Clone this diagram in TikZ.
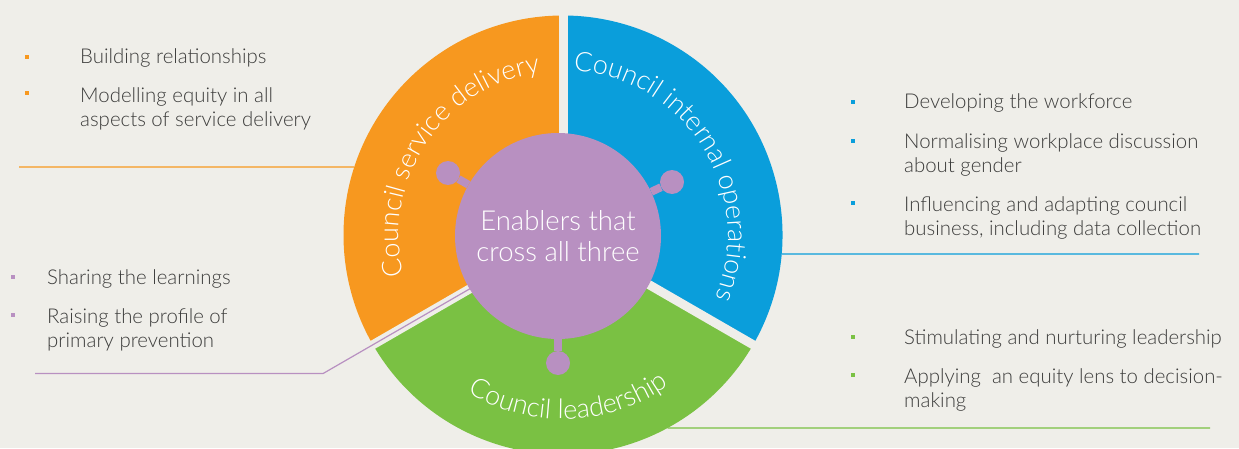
\documentclass[tikz,border=0pt]{standalone}
\usepackage{fontspec}
\setmainfont{Lato Light}
\usepackage{tikz}
\usetikzlibrary{decorations.text}

\definecolor{paper}{HTML}{EFEEE9}
\definecolor{svcorange}{HTML}{F7981F}
\definecolor{opsblue}{HTML}{0A9EDB}
\definecolor{leadgreen}{HTML}{7AC143}
\definecolor{hubpurple}{HTML}{B890C1}
\definecolor{ink}{HTML}{3C3C3B}

\newcommand{\ringfont}{\fontsize{27}{27}\selectfont}
\newcommand{\hubfont}{\fontsize{27.5}{31}\selectfont}
\newcommand{\listfont}{\fontsize{20.4}{24}\selectfont}

\tikzset{
  dot/.style={fill=#1, minimum size=4.5pt, inner sep=0pt},
  item/.style={anchor=base west, inner sep=0pt, align=left, text=ink, font=\listfont},
  gap/.style={draw=paper, line width=9pt},
  stem/.style={draw=hubpurple, line width=8pt},
  knob/.style={circle, fill=hubpurple, minimum size=24pt, inner sep=0pt},
  ringtext/.style={decorate, decoration={text along path, text align=center,
    text={|\color{white}\ringfont|#1}}}
}

\begin{document}
\begin{tikzpicture}[x=1pt, y=1pt]
  \clip (0,0) rectangle (1239,448);
  \fill[paper] (0,0) rectangle (1239,448);

  \coordinate (c) at (563,213);

  % ring sectors
  \fill[svcorange] (c) -- ++(90:219.5) arc[start angle=90, end angle=210, radius=219.5] -- cycle;
  \fill[leadgreen] (c) -- ++(210:219.5) arc[start angle=210, end angle=330, radius=219.5] -- cycle;
  \fill[opsblue] (c) -- ++(330:219.5) arc[start angle=330, end angle=450, radius=219.5] -- cycle;
  \foreach \a in {90,210,330}
    \draw[gap] (c) -- ++(\a:230);

  % curved sector titles
  \path[ringtext=Council service delivery] ([shift={(206:164)}]c) arc[start angle=206, end angle=86, radius=164];
  \path[ringtext=Council internal operations] ([shift={(92:165)}]c) arc[start angle=92, end angle=-28, radius=165];
  \path[ringtext=Council leadership] ([shift={(222:184)}]c) arc[start angle=222, end angle=322, radius=184];

  % leader lines
  \coordinate (ol) at (19,281);
  \coordinate (oe) at ([shift={(161.95:219.5)}]c);
  \coordinate (bl) at (1199,194);
  \coordinate (be) at ([shift={(-4.97:219.5)}]c);
  \coordinate (gl) at (1210,20);
  \coordinate (ge) at ([shift={(-61.56:219.5)}]c);
  \coordinate (pk) at ([shift={(210:277)}]c);
  \coordinate (pl) at (35,74.5);
  \draw[svcorange, line width=1.2pt] (ol) -- (oe);
  \draw[opsblue, line width=1.2pt] (bl) -- (be);
  \draw[leadgreen, line width=1.2pt] (gl) -- (ge);
  \draw[hubpurple, line width=1.2pt] (c) -- (pk) -- (pl);

  % hub with its three knobs
  \node[knob] (k1) at (448,275) {};
  \node[knob] (k2) at (672,266) {};
  \node[knob] (k3) at (558,85) {};
  \node[circle, fill=hubpurple, minimum size=206pt, inner sep=0pt, text=white,
    align=center, font=\hubfont] (hub) at (558,212) {Enablers that\\cross all three};
  \draw[stem] (hub) -- (k1);
  \draw[stem] (hub) -- (k2);
  \draw[stem] (hub) -- (k3);

  % service delivery (multi-line items sit on their last line)
  \node[dot=svcorange] (o1) at (27,391) {};
  \node[dot=svcorange] (o2) at (27,355) {};
  \node[item] (to1) at (80,384) {Building relationships};
  \node[item] (to2) at (80,321) {Modelling equity in all\\aspects of service delivery};

  % enablers
  \node[dot=hubpurple] (p1) at (13,171) {};
  \node[dot=hubpurple] (p2) at (13,133) {};
  \node[item] (tp1) at (47,164) {Sharing the learnings};
  \node[item] (tp2) at (47,101) {Raising the profile of\\primary prevention};

  % internal operations
  \node[dot=opsblue] (b1) at (853,346) {};
  \node[dot=opsblue] (b2) at (853,307) {};
  \node[dot=opsblue] (b3) at (853,245) {};
  \node[item] (tb1) at (904,339) {Developing the workforce};
  \node[item] (tb2) at (904,276) {Normalising workplace discussion\\about gender};
  \node[item] (tb3) at (904,213) {Influencing and adapting council\\business, including data collection};

  % leadership
  \node[dot=leadgreen] (g1) at (853,111) {};
  \node[dot=leadgreen] (g2) at (853,73) {};
  \node[item] (tg1) at (904,104) {Stimulating and nurturing leadership};
  \node[item] (tg2) at (904,41) {Applying\ \ an equity lens to decision-\\making};
\end{tikzpicture}
\end{document}
